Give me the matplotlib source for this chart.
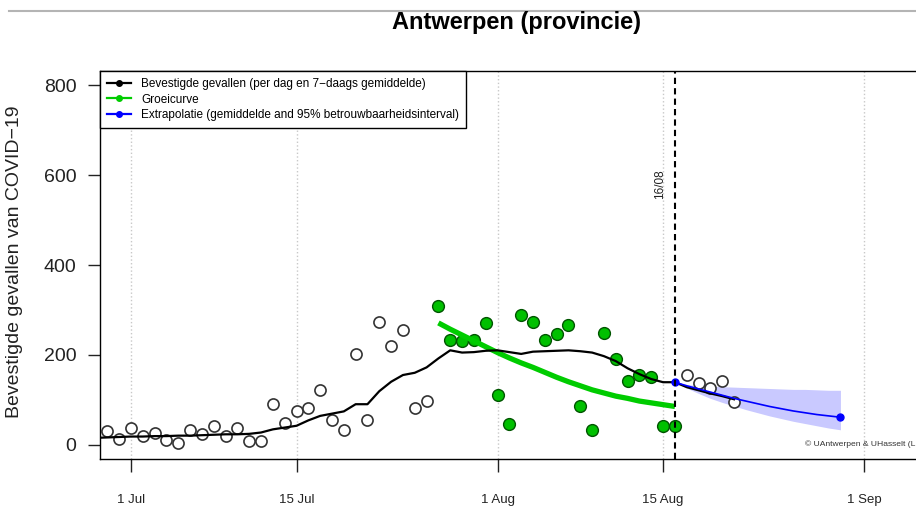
import numpy as np
import pandas as pd
import matplotlib
matplotlib.use('Agg')
import matplotlib.pyplot as plt
import matplotlib.dates as mdates
from matplotlib.lines import Line2D

plt.rcParams['font.family'] = ['Liberation Sans', 'DejaVu Sans']

# daily confirmed cases (open circles), 29 Jun - 26 Jul
days_before = pd.date_range('2020-06-29', '2020-07-26')
cases_before = [30, 13, 37, 20, 27, 11, 4, 32, 24, 41, 20, 37, 9, 7, 90, 48, 76, 82,
                122, 55, 32, 201, 55, 272, 219, 256, 81, 97]

# daily cases used for the growth curve (green), 27 Jul - 16 Aug
days_fit = pd.date_range('2020-07-27', '2020-08-16')
cases_fit = [308, 234, 230, 232, 271, 111, 47, 288, 272, 232, 246, 267, 85, 33,
             249, 191, 142, 156, 150, 42, 41]

# daily cases after the cut-off date, 17 Aug - 21 Aug
days_after = pd.date_range('2020-08-17', '2020-08-21')
cases_after = [156, 137, 127, 141, 96]

# 7-day average, 28 Jun - 21 Aug
days_avg = pd.date_range('2020-06-28', '2020-08-21')
avg7 = [15, 16, 17, 18, 18, 19, 19, 20, 20, 21, 22, 23, 23, 24, 27, 34, 38, 42, 54,
        64, 69, 74, 90, 90, 119, 140, 155, 160, 172, 192, 210, 205, 206, 209, 210,
        206, 202, 207, 208, 209, 210, 208, 205, 197, 186, 170, 157, 146, 139, 139,
        128, 121, 114, 108, 101]

# growth curve
growth = [271, 257, 244, 231, 218, 205, 193, 182, 172, 161, 150, 140, 131, 122,
          115, 108, 103, 97, 93, 89, 85]

# extrapolation with 95% interval, 16 Aug - 30 Aug
days_ext = pd.date_range('2020-08-16', '2020-08-30')
ext_mean = [139, 131, 124, 117, 110, 103, 97, 91, 85, 80, 75, 71, 67, 64, 61]
ext_upper = [139, 134, 131, 130, 129, 128, 127, 126, 125, 124, 123, 123, 122, 121, 121]
ext_lower = [139, 126, 114, 103, 94, 86, 78, 71, 64, 58, 52, 47, 42, 37, 33]

cutoff = pd.Timestamp('2020-08-16')
tick_dates = pd.to_datetime(['2020-07-01', '2020-07-15', '2020-08-01', '2020-08-15', '2020-09-01'])
tick_labels = ['1 Jul', '15 Jul', '1 Aug', '15 Aug', '1 Sep']

fig = plt.figure(figsize=(9.16, 5.07), dpi=100)
ax = fig.add_axes([100 / 916, 48 / 507, 816 / 916, 388 / 507])

d0 = mdates.date2num(pd.Timestamp('2020-07-01'))
ax.set_xlim(d0 - 2.62, d0 + 66.39)
ax.set_ylim(-32, 832)

for t in tick_dates:
    ax.axvline(t, color='#c8c8c8', ls=':', lw=1, zorder=0)

ax.fill_between(days_ext, ext_lower, ext_upper, color='#c9c9ff', lw=0, zorder=1)

ax.plot(days_before, cases_before, 'o', ms=8, mfc='white', mec='#333333', mew=1.2, zorder=2)
ax.plot(days_after, cases_after, 'o', ms=8, mfc='white', mec='#333333', mew=1.2, zorder=2)
ax.plot(days_fit, cases_fit, 'o', ms=8.5, mfc='#00c000', mec='#005500', mew=1.0, zorder=2)

ax.plot(days_fit, growth, color='#00cc00', lw=3.8, solid_capstyle='butt', zorder=3)
ax.plot(days_avg, avg7, color='black', lw=1.6, zorder=4)
ax.plot(days_ext, ext_mean, color='#0000ff', lw=1.2, zorder=5)
ax.plot([days_ext[0], days_ext[-1]], [ext_mean[0], ext_mean[-1]], 'o', ms=5,
        color='#0000ff', zorder=6)

ax.axvline(cutoff, color='black', ls=(0, (3, 2)), lw=1.5, zorder=6)
ax.text(mdates.date2num(cutoff) - 1.25, 580, '16/08', rotation=90, fontsize=8.5,
        ha='center', va='center', color='#222222')

ax.text(d0 + 57.0, 2, '\u00a9 UAntwerpen & UHasselt (L', fontsize=6.1,
        ha='left', va='center', color='#333333')

ax.set_xticks(tick_dates)
ax.set_xticklabels(tick_labels)
ax.set_yticks([0, 200, 400, 600, 800])
ax.tick_params(axis='x', labelsize=9.5, length=9, width=1, pad=16, colors='#222222')
ax.tick_params(axis='y', labelsize=14, length=9, width=1, pad=8, colors='#222222')
ax.spines['right'].set_visible(False)
for s in ['left', 'bottom', 'top']:
    ax.spines[s].set_linewidth(1.0)

handles = [
    Line2D([], [], color='black', lw=1.6, marker='o', ms=4),
    Line2D([], [], color='#00cc00', lw=1.6, marker='o', ms=4),
    Line2D([], [], color='#0000ff', lw=1.6, marker='o', ms=4),
]
labels = ['Bevestigde gevallen (per dag en 7\u2212daags gemiddelde)',
          'Groeicurve',
          'Extrapolatie (gemiddelde and 95% betrouwbaarheidsinterval)']
leg = ax.legend(handles, labels, loc='upper left', bbox_to_anchor=(0, 1),
                borderaxespad=0, fontsize=8.5, handlelength=2.0, handletextpad=0.9,
                labelspacing=0.3, borderpad=0.6, fancybox=False, framealpha=1,
                edgecolor='black')
leg.get_frame().set_linewidth(1.0)

fig.text(15 / 916, 1 - 262 / 507, 'Bevestigde gevallen van COVID\u221219', rotation=90,
         fontsize=14, ha='center', va='center', color='#222222')
fig.text(516 / 916, 1 - 29 / 507, 'Antwerpen (provincie)', fontsize=17,
         fontweight='bold', ha='center', va='baseline')
fig.add_artist(Line2D([9 / 916, 1], [1 - 10.5 / 507] * 2, color='#b4b4b4', lw=1.5))

fig.savefig('out.png', dpi=100)
